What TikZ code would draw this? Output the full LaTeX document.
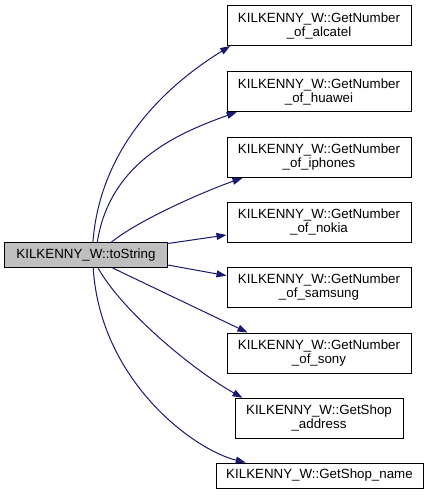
\documentclass[tikz,border=0pt]{standalone}
\usepackage{fontspec}
\setmainfont{Liberation Sans}
\usepackage{xcolor}
\usetikzlibrary{positioning, arrows.meta}
\definecolor{edgeblue}{HTML}{191970}
\definecolor{curgray}{HTML}{BFBFBF}

\begin{document}
\begin{tikzpicture}[x=0.75pt, y=0.75pt,
	fn/.style = {draw=black, fill=white, line width=0.75pt, inner sep=0pt, align=center,
		font=\fontsize{10}{10.5}\selectfont, minimum width=138pt, minimum height=30pt},
	cur/.style = {fn, fill=curgray, minimum width=122.6pt, minimum height=18.75pt},
	call/.style = {draw=edgeblue, line width=0.75pt, -{Triangle[length=7.5pt, width=5.25pt]}}]
	\useasboundingbox (0,0) rectangle (428,-495);

		\node[cur] (ts) at (86,-255) {KILKENNY\_W::toString};
		\node[fn] (alc) at (319,-25.5) {KILKENNY\_W::GetNumber\\\_of\_alcatel};
		\node[fn] (hua) at (319,-91.5) {KILKENNY\_W::GetNumber\\\_of\_huawei};
		\node[fn] (iph) at (319,-157.5) {KILKENNY\_W::GetNumber\\\_of\_iphones};
		\node[fn] (nok) at (319,-222) {KILKENNY\_W::GetNumber\\\_of\_nokia};
		\node[fn] (sam) at (319,-287) {KILKENNY\_W::GetNumber\\\_of\_samsung};
		\node[fn] (son) at (319,-353) {KILKENNY\_W::GetNumber\\\_of\_sony};
		\node[fn, minimum width=126pt] (adr) at (319,-418.3) {KILKENNY\_W::GetShop\\\_address};
		\node[fn, minimum width=155.25pt, minimum height=18.75pt] (nam) at (319.5,-475.5) {KILKENNY\_W::GetShop\_name};

		\draw[call] (ts.62) .. controls +(8,102) and +(-55,-34) .. (alc.193.5);
		\draw[call] (ts.49) .. controls +(13,82) and +(-55,-20) .. (hua.194);
		\draw[call] (ts.27.5) .. controls +(30,24) and +(-32,-11) .. (iph.195);
		\draw[call] (ts.8.4) -- (nok.188);
		\draw[call] (ts.-7.7) -- (sam.173.2);
		\draw[call] (ts.-26) -- (son.164.3);
		\draw[call] (ts.-47.9) .. controls +(23,-42) and +(-50,28) .. (adr.165.8);
		\draw[call] (ts.-61.8) .. controls +(7,-112) and +(-53,13) .. (nam.170.7);

	\end{tikzpicture}
\end{document}
